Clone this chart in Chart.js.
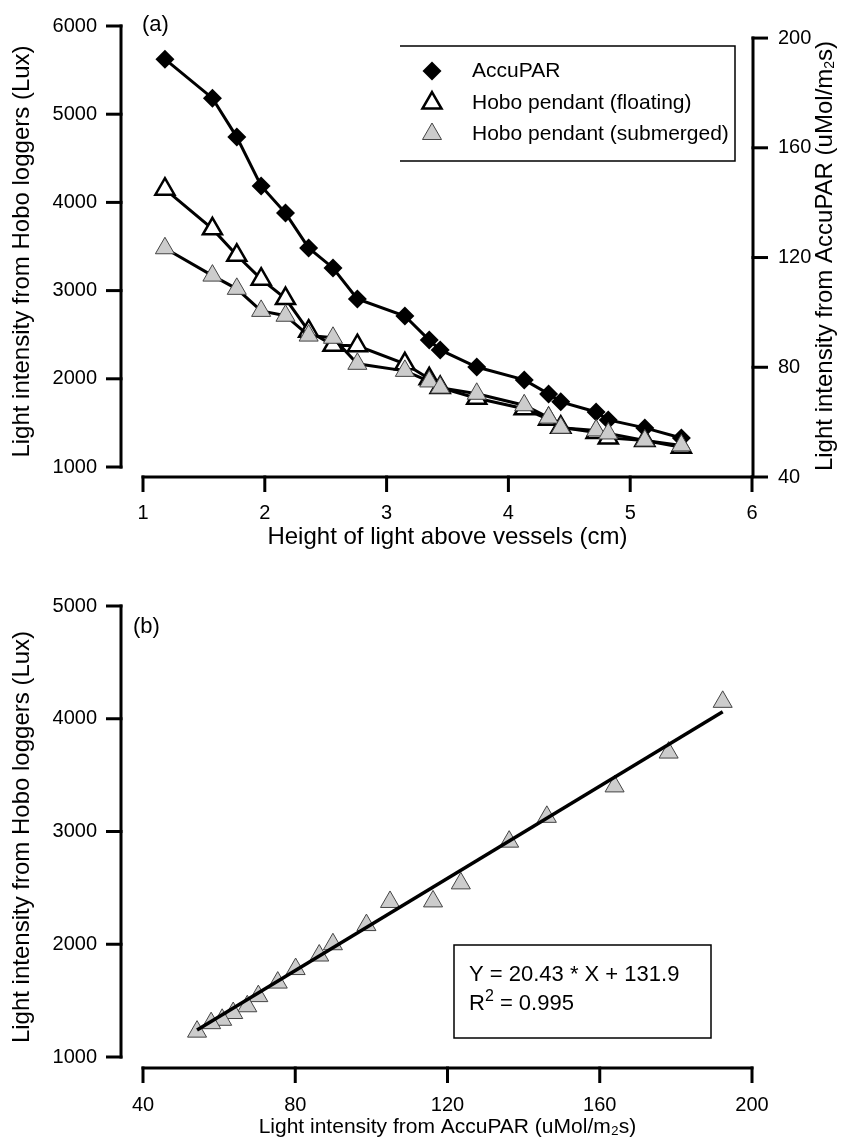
<!DOCTYPE html>
<html lang="en">
<head>
<meta charset="UTF-8">
<title>Light intensity vs height of light</title>
<script src="https://cdn.jsdelivr.net/npm/chart.js"></script>
<style>
  body { margin: 0; background: #fff; }
  .panel { position: absolute; left: 0; width: 843px; height: 570px; }
</style>
</head>
<body>
<div class="panel" style="top:0"><canvas id="chartA" width="843" height="570"></canvas></div>
<div class="panel" style="top:570px"><canvas id="chartB" width="843" height="570"></canvas></div>
<script>
// values
const heights = [1.18, 1.57, 1.77, 1.97, 2.17, 2.36, 2.56, 2.76, 3.15, 3.35, 3.44, 3.74, 4.13, 4.33, 4.43, 4.72, 4.82, 5.12, 5.42];
const accuPar = [192.3, 178.1, 163.9, 146.1, 136.2, 123.5, 116.2, 104.9, 98.7, 89.9, 86.3, 80.1, 75.4, 70.3, 67.4, 63.7, 60.8, 57.9, 54.2];
const hoboFloating = [4150, 3700, 3400, 3130, 2910, 2540, 2380, 2375, 2170, 2000, 1900, 1780, 1660, 1540, 1450, 1390, 1330, 1300, 1225];
const hoboSubmerged = [3480, 3170, 3020, 2770, 2715, 2490, 2465, 2170, 2090, 1970, 1900, 1830, 1700, 1560, 1445, 1415, 1380, 1300, 1245];

// ends of the fitted line in panel (b): Y = 20.43 * X + 131.9
const fitX = [54.2, 192.3];
const fitY = [1239, 4061];

const heightTicks = [1, 2, 3, 4, 5, 6];
const luxTicksA = [1000, 2000, 3000, 4000, 5000, 6000];
const parTicksA = [40, 80, 120, 160, 200];
const parTicksB = [40, 80, 120, 160, 200];
const luxTicksB = [1000, 2000, 3000, 4000, 5000];

const FONT = '"Liberation Sans", Arial, sans-serif';
Chart.defaults.font.family = FONT;
Chart.defaults.color = '#000';

function pairs(xs, ys) {
  return xs.map((x, i) => ({ x: x, y: ys[i] }));
}

function fixedTicks(list) {
  return scale => { scale.ticks = list.map(v => ({ value: v })); };
}

// force the box size and drop the label overhang padding chart.js adds
function fitTo(prop, size) {
  return scale => {
    scale[prop] = size;
    scale.paddingTop = 0;
    scale.paddingBottom = 0;
    scale.paddingLeft = 0;
    scale.paddingRight = 0;
  };
}

function strokeLine(ctx, x1, y1, x2, y2) {
  ctx.beginPath();
  ctx.moveTo(x1, y1);
  ctx.lineTo(x2, y2);
  ctx.stroke();
}

function drawMarker(ctx, style, x, y, r, fill, stroke, lw) {
  ctx.beginPath();
  if (style === 'rectRot') {
    ctx.moveTo(x - r, y);
    ctx.lineTo(x, y - r);
    ctx.lineTo(x + r, y);
    ctx.lineTo(x, y + r);
  } else {
    ctx.moveTo(x, y - r);
    ctx.lineTo(x + r * Math.sin(2 * Math.PI / 3), y - r * Math.cos(2 * Math.PI / 3));
    ctx.lineTo(x + r * Math.sin(4 * Math.PI / 3), y - r * Math.cos(4 * Math.PI / 3));
  }
  ctx.closePath();
  ctx.fillStyle = fill;
  ctx.fill();
  if (lw) {
    ctx.lineWidth = lw;
    ctx.strokeStyle = stroke;
    ctx.stroke();
  }
}

// axes drawn apart from the plot area, like the original figure
const offsetAxes = {
  id: 'offsetAxes',
  afterDraw(chart, args, o) {
    const { ctx, chartArea: a, scales } = chart;
    const half = o.width / 2;
    ctx.save();
    ctx.strokeStyle = '#000';
    ctx.lineWidth = o.width;

    const sx = scales.x;
    const xs = sx.ticks.map(t => sx.getPixelForValue(t.value));
    strokeLine(ctx, xs[0] - half, a.bottom, xs[xs.length - 1] + half, a.bottom);
    xs.forEach(p => strokeLine(ctx, p, a.bottom - half, p, a.bottom + o.tick));

    const sy = scales.y;
    const ys = sy.ticks.map(t => sy.getPixelForValue(t.value));
    const lx = a.left - o.gap;
    strokeLine(ctx, lx, Math.min(...ys) - half, lx, Math.max(...ys) + half);
    ys.forEach(p => strokeLine(ctx, lx + half, p, lx - o.tick, p));

    if (scales.y2) {
      const s2 = scales.y2;
      const y2s = s2.ticks.map(t => s2.getPixelForValue(t.value));
      const rx = a.right + 1;
      strokeLine(ctx, rx, Math.min(...y2s) - half, rx, a.bottom);
      y2s.forEach(p => strokeLine(ctx, rx - half, p, rx + o.tick, p));
    }
    ctx.restore();
  }
};

// legend box (open on the left side, as in the figure)
const boxLegend = {
  id: 'boxLegend',
  afterDraw(chart, args, o) {
    if (!o.display) return;
    const ctx = chart.ctx;
    ctx.save();
    ctx.strokeStyle = '#000';
    ctx.lineWidth = 1.5;
    ctx.beginPath();
    ctx.moveTo(o.left, o.top);
    ctx.lineTo(o.right, o.top);
    ctx.lineTo(o.right, o.bottom);
    ctx.lineTo(o.left, o.bottom);
    ctx.stroke();

    const sets = chart.data.datasets.slice().sort((a, b) => b.order - a.order);
    ctx.font = o.size + 'px ' + FONT;
    ctx.textBaseline = 'middle';
    sets.forEach((ds, i) => {
      const y = o.rows[i];
      drawMarker(ctx, ds.pointStyle, o.markerX, y, ds.pointRadius,
        ds.pointBackgroundColor, ds.pointBorderColor, ds.pointBorderWidth);
      ctx.fillStyle = '#000';
      ctx.fillText(ds.label, o.textX, y);
    });
    ctx.restore();
  }
};

// free text: panel letters, right axis title, fit box
const notes = {
  id: 'notes',
  afterDraw(chart, args, o) {
    const ctx = chart.ctx;
    ctx.save();
    if (o.box) {
      ctx.strokeStyle = '#000';
      ctx.lineWidth = 1.5;
      ctx.strokeRect(o.box.left, o.box.top, o.box.right - o.box.left, o.box.bottom - o.box.top);
    }
    ctx.fillStyle = '#000';
    ctx.textBaseline = 'middle';
    ctx.textAlign = 'left';
    (o.items || []).forEach(it => {
      ctx.save();
      ctx.translate(it.x, it.y);
      if (it.rotate) ctx.rotate(it.rotate);
      let total = 0;
      it.parts.forEach(p => {
        ctx.font = p.size + 'px ' + FONT;
        total += ctx.measureText(p.text).width;
      });
      let x = it.centered ? -total / 2 : 0;
      it.parts.forEach(p => {
        ctx.font = p.size + 'px ' + FONT;
        ctx.fillText(p.text, x, p.dy || 0);
        x += ctx.measureText(p.text).width;
      });
      ctx.restore();
    });
    ctx.restore();
  }
};

const tickFont = { size: 20, family: FONT };
const titleFont = { size: 24, family: FONT };
const noGrid = { display: false, drawTicks: false };
const noBorder = { display: false };

new Chart(document.getElementById('chartA'), {
  type: 'line',
  data: {
    datasets: [
      {
        label: 'Hobo pendant (submerged)',
        data: pairs(heights, hoboSubmerged),
        yAxisID: 'y',
        order: 0,
        borderColor: '#000',
        borderWidth: 3,
        pointStyle: 'triangle',
        pointRadius: 11,
        pointBackgroundColor: '#cccccc',
        pointBorderColor: '#444444',
        pointBorderWidth: 1
      },
      {
        label: 'Hobo pendant (floating)',
        data: pairs(heights, hoboFloating),
        yAxisID: 'y',
        order: 1,
        borderColor: '#000',
        borderWidth: 3,
        pointStyle: 'triangle',
        pointRadius: 11,
        pointBackgroundColor: '#ffffff',
        pointBorderColor: '#000000',
        pointBorderWidth: 2.5
      },
      {
        label: 'AccuPAR',
        data: pairs(heights, accuPar),
        yAxisID: 'y2',
        order: 2,
        borderColor: '#000',
        borderWidth: 3,
        pointStyle: 'rectRot',
        pointRadius: 9.5,
        pointBackgroundColor: '#000000',
        pointBorderColor: '#000000',
        pointBorderWidth: 0
      }
    ]
  },
  options: {
    responsive: false,
    animation: false,
    events: [],
    clip: false,
    layout: { autoPadding: false, padding: { top: 26, left: 0, right: 0, bottom: 0 } },
    plugins: {
      legend: { display: false },
      tooltip: { enabled: false },
      offsetAxes: { width: 3, tick: 15, gap: 22 },
      boxLegend: {
        display: true, left: 400, right: 735, top: 46, bottom: 161,
        markerX: 432, textX: 472, rows: [71, 103, 134], size: 21
      },
      notes: {
        items: [
          { x: 142, y: 25, parts: [{ text: '(a)', size: 22 }] },
          { x: 825, y: 256, rotate: -Math.PI / 2, centered: true,
            parts: [{ text: 'Light intensity from AccuPAR (uMol/m', size: 24 },
                    { text: '2', size: 14, dy: 5 },
                    { text: 's)', size: 24 }] }
        ]
      }
    },
    scales: {
      x: {
        type: 'linear', min: 1, max: 6,
        afterBuildTicks: fixedTicks(heightTicks),
        afterFit: fitTo('height', 93),
        grid: noGrid, border: noBorder,
        ticks: { padding: 24, font: tickFont, autoSkip: false, maxRotation: 0, callback: v => String(v) },
        title: { display: true, text: 'Height of light above vessels (cm)', font: titleFont, padding: { top: 0, bottom: 18 } }
      },
      y: {
        position: 'left', min: 886.6, max: 6000,
        afterBuildTicks: fixedTicks(luxTicksA),
        afterFit: fitTo('width', 143),
        grid: noGrid, border: noBorder,
        ticks: { padding: 46, font: tickFont, autoSkip: false, callback: v => String(v) },
        title: { display: true, text: 'Light intensity from Hobo loggers (Lux)', font: titleFont, padding: { top: 8, bottom: 0 } }
      },
      y2: {
        position: 'right', min: 40, max: 204.4,
        afterBuildTicks: fixedTicks(parTicksA),
        afterFit: fitTo('width', 91),
        grid: noGrid, border: noBorder,
        ticks: { padding: 26, font: tickFont, autoSkip: false, callback: v => String(v) }
      }
    }
  },
  plugins: [offsetAxes, boxLegend, notes]
});

new Chart(document.getElementById('chartB'), {
  type: 'scatter',
  data: {
    datasets: [
      {
        label: 'Linear fit',
        type: 'line',
        data: pairs(fitX, fitY),
        order: 0,
        borderColor: '#000',
        borderWidth: 3.5,
        pointRadius: 0
      },
      {
        label: 'Hobo pendant (floating) vs AccuPAR',
        data: pairs(accuPar, hoboFloating),
        order: 1,
        pointStyle: 'triangle',
        pointRadius: 11,
        pointBackgroundColor: '#cccccc',
        pointBorderColor: '#444444',
        pointBorderWidth: 1
      }
    ]
  },
  options: {
    responsive: false,
    animation: false,
    events: [],
    clip: false,
    layout: { autoPadding: false, padding: { top: 36, left: 0, right: 91, bottom: 0 } },
    plugins: {
      legend: { display: false },
      tooltip: { enabled: false },
      offsetAxes: { width: 3, tick: 15, gap: 22 },
      notes: {
        box: { left: 454, right: 711, top: 375, bottom: 468 },
        items: [
          { x: 133, y: 57, parts: [{ text: '(b)', size: 22 }] },
          { x: 469, y: 405, parts: [{ text: 'Y = 20.43 * X + 131.9', size: 22 }] },
          { x: 469, y: 434, parts: [{ text: 'R', size: 22 }, { text: '2', size: 16, dy: -7 }, { text: ' = 0.995', size: 22 }] }
        ]
      }
    },
    scales: {
      x: {
        type: 'linear', min: 40, max: 200,
        afterBuildTicks: fixedTicks(parTicksB),
        afterFit: fitTo('height', 72),
        grid: noGrid, border: noBorder,
        ticks: { padding: 25, font: tickFont, autoSkip: false, maxRotation: 0, callback: v => String(v) },
        title: { display: true, text: 'Light intensity from AccuPAR (uMol/m\u2082s)', font: { size: 21, family: FONT }, padding: { top: 0, bottom: 0 } }
      },
      y: {
        position: 'left', min: 902.4, max: 5000,
        afterBuildTicks: fixedTicks(luxTicksB),
        afterFit: fitTo('width', 143),
        grid: noGrid, border: noBorder,
        ticks: { padding: 46, font: tickFont, autoSkip: false, callback: v => String(v) },
        title: { display: true, text: 'Light intensity from Hobo loggers (Lux)', font: titleFont, padding: { top: 8, bottom: 0 } }
      }
    }
  },
  plugins: [offsetAxes, notes]
});
</script>
</body>
</html>
